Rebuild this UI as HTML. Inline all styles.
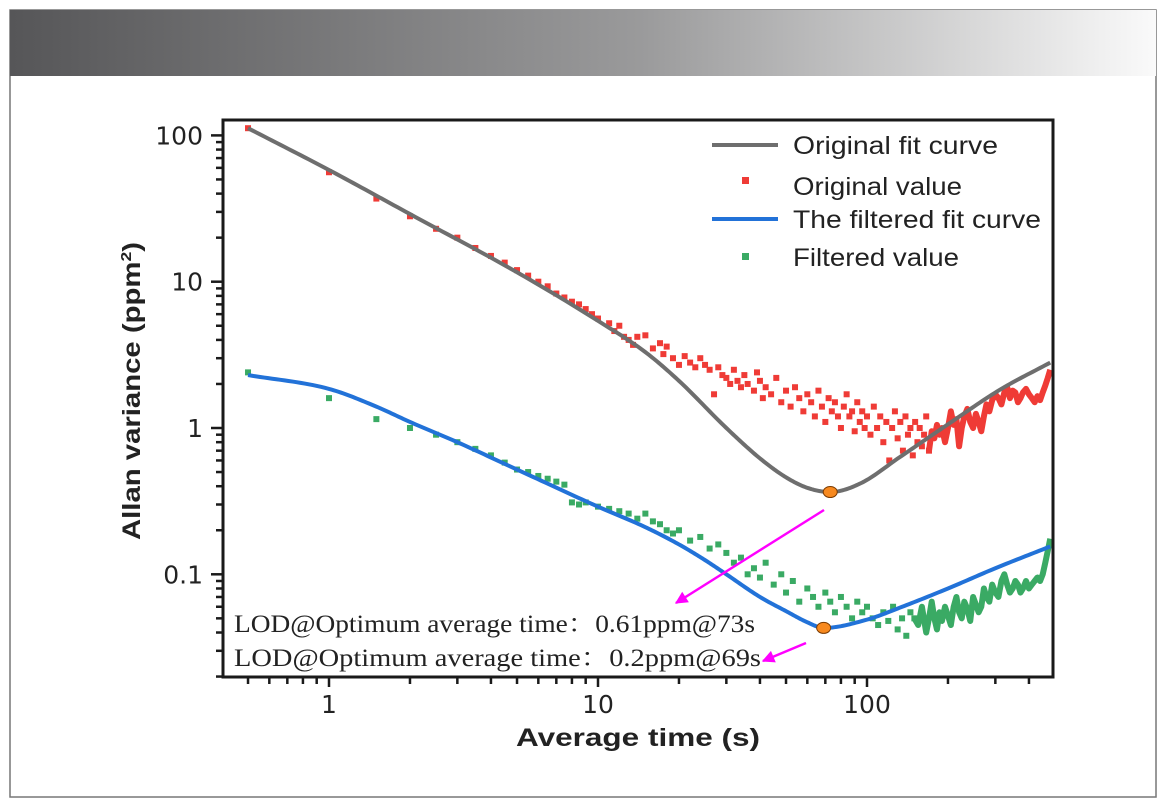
<!DOCTYPE html>
<html><head><meta charset="utf-8"><style>
body{margin:0;background:#fff;}
svg{display:block;font-family:"Liberation Sans",sans-serif;}
</style></head><body>
<svg id="c" width="1166" height="810">
<defs><linearGradient id="hg" x1="0" x2="1"><stop offset="0" stop-color="#565658"/><stop offset="0.55" stop-color="#9a9a9b"/><stop offset="1" stop-color="#fafafa"/></linearGradient>
<marker id="ah" viewBox="0 0 10 10" refX="9" refY="5" markerWidth="7" markerHeight="5" orient="auto"><path d="M0,0L10,5L0,10z" fill="#ff00ff"/></marker></defs>
<rect x="10" y="10" width="1146" height="787" fill="#fff" stroke="#777" stroke-width="1.5"/>
<rect x="10" y="10" width="1146" height="66" fill="url(#hg)"/>
<g id="plot"></g>
</svg>
<script>
const redT=[0.5,1,1.5,2,2.5,3,3.5,4,4.5,5,5.5,6,6.5,7,7.5,8,8.5,9,9.5,10,11,11.5,12,12.5,13,13.5,14,15,16,17,17.5,18,19,20,21,22,23,24,25,26,27,28,29,30,31,32,33,34,35,36,38,39,40,41,42,44,46,48,50,52,54,56,58,60,62,64,66,68,70,72,74,76,78,80,82,84,86,88,90,92,94,96,98,100,103,106,109,112,115,118,121,124,127,130,133,136,139,142,145,148,151,154,157,160,163,166,170];
const redV=[112,56,37,28,23,20,17,15,13.5,12,11,10,9.3,8.3,7.8,7.3,7.0,6.5,6.0,5.6,5.2,4.6,5.0,4.2,4.0,3.7,4.2,4.3,3.5,3.8,3.2,3.6,3.0,2.7,3.1,2.8,2.6,3.0,2.7,2.5,1.7,2.6,2.3,2.2,2.0,2.5,2.1,1.9,2.3,2.0,1.8,2.4,2.1,1.6,1.9,1.7,2.2,1.5,1.8,1.4,1.9,1.6,1.3,1.7,1.5,1.2,1.8,1.4,1.1,1.6,1.3,1.5,1.2,1.0,1.4,1.7,1.2,1.3,0.95,1.5,1.1,1.3,1.0,1.2,0.9,1.4,1.0,1.2,0.8,1.1,0.6,1.0,1.3,0.85,1.1,0.7,1.2,0.9,1.0,0.65,1.1,0.8,1.0,0.75,0.9,1.2,0.7];
const redLineT=[170,174,178,182,186,190,195,200,205,210,215,220,225,230,236,242,248,254,260,266,272,278,285,292,300,308,316,324,332,340,348,356,364,372,380,390,400,410,420,430,440,450,460,470,480];
const redLineV=[0.7,0.95,0.85,1.05,0.9,1.0,0.8,1.0,1.3,1.05,1.15,0.75,1.0,1.2,1.35,1.1,1.0,1.25,1.1,0.95,1.2,1.45,1.3,1.55,1.7,1.6,1.45,1.75,1.9,1.6,1.8,1.75,1.5,1.6,1.75,1.85,1.7,1.6,1.5,1.65,1.55,1.75,1.95,2.2,2.5];
const greenT=[0.5,1,1.5,2,2.5,3,3.5,4,4.5,5,5.5,6,6.5,7,7.5,8,8.5,9,10,11,12,13,14,15,16,17,18,19,20,22,24,26,28,30,32,34,36,38,40,42,45,48,50,53,56,60,63,66,70,73,76,80,84,88,92,96,100,105,110,115,120,125,130,135,140,145,150];
const greenV=[2.4,1.6,1.15,1.0,0.9,0.8,0.72,0.65,0.58,0.52,0.5,0.47,0.45,0.43,0.41,0.31,0.3,0.31,0.29,0.28,0.27,0.26,0.24,0.26,0.23,0.22,0.2,0.19,0.2,0.17,0.18,0.15,0.16,0.14,0.12,0.13,0.1,0.11,0.095,0.12,0.085,0.1,0.075,0.09,0.065,0.08,0.07,0.06,0.075,0.065,0.055,0.07,0.06,0.05,0.065,0.055,0.06,0.05,0.045,0.055,0.048,0.06,0.042,0.05,0.038,0.055,0.05];
const greenLineT=[150,155,160,166,170,174,178,182,186,190,195,200,205,210,215,220,225,230,236,242,248,254,260,266,272,278,285,292,300,308,316,324,332,340,348,356,364,372,380,390,400,410,420,430,440,450,460,470,480];
const greenLineV=[0.05,0.045,0.06,0.04,0.05,0.065,0.05,0.042,0.055,0.048,0.06,0.052,0.045,0.06,0.07,0.055,0.05,0.065,0.058,0.048,0.07,0.062,0.055,0.06,0.08,0.07,0.065,0.085,0.075,0.07,0.09,0.1,0.085,0.075,0.08,0.09,0.085,0.075,0.08,0.09,0.08,0.085,0.09,0.095,0.09,0.1,0.12,0.145,0.175];
const grayFitT=[0.5,1,2,5,10,15,20,30,40,50,60,73,95,132,203,311,480];
const grayFitV=[112,58,29,11.6,5.4,3.3,2.1,1.0,0.62,0.46,0.39,0.365,0.42,0.63,1.08,1.82,2.8];
const blueFitT=[0.5,1,1.5,2,3,5,10,15,20,25,30,40,50,60,69,100,132,200,300,480];
const blueFitV=[2.3,1.85,1.4,1.1,0.8,0.52,0.29,0.21,0.16,0.125,0.1,0.07,0.056,0.047,0.043,0.049,0.059,0.08,0.11,0.155];
const xTicks=[1,10,100];const xTickLabels=["1","10","100"];
const yTicks=[100,10,1,0.1];const yTickLabels=["100","10","1","0.1"];
const optT=[73,69];const optV=[0.365,0.043];

const L=223,R=1053,T=120,B=677;
const xs=t=>329+269*Math.log10(t);
const ys=v=>428-146.3*Math.log10(v);
const NS="http://www.w3.org/2000/svg";
const g=document.getElementById('plot');
function mk(tag,at,parent){const e=document.createElementNS(NS,tag);for(const k in at)e.setAttribute(k,at[k]);(parent||g).appendChild(e);return e;}
// monotone-ish smooth curve: sample piecewise-cubic Hermite in log space
function curve(T_,V_){const X=T_.map(Math.log10),Y=V_.map(Math.log10),n=X.length;
const m=[];for(let i=0;i<n;i++){if(i==0)m.push((Y[1]-Y[0])/(X[1]-X[0]));else if(i==n-1)m.push((Y[n-1]-Y[n-2])/(X[n-1]-X[n-2]));
else{const d0=(Y[i]-Y[i-1])/(X[i]-X[i-1]),d1=(Y[i+1]-Y[i])/(X[i+1]-X[i]);m.push(d0*d1<=0?0:(d0+d1)/2);}}
let d='';for(let i=0;i<n-1;i++){const h=X[i+1]-X[i];for(let k=0;k<=20;k++){if(i>0&&k==0)continue;const s=k/20;
const h00=2*s*s*s-3*s*s+1,h10=s*s*s-2*s*s+s,h01=-2*s*s*s+3*s*s,h11=s*s*s-s*s;
const y=h00*Y[i]+h10*h*m[i]+h01*Y[i+1]+h11*h*m[i+1];const x=X[i]+s*h;
d+=(d?'L':'M')+(329+269*x).toFixed(2)+','+(428-146.3*y).toFixed(2);}}return d;}
function poly(T_,V_){return T_.map((t,i)=>(i?'L':'M')+xs(t)+','+ys(V_[i])).join('');}
const cp=mk('clipPath',{id:'cp'});mk('rect',{x:L,y:T,width:R-L,height:B-T},cp);
const data=mk('g',{'clip-path':'url(#cp)'});


redT.forEach((t,i)=>{const r=mk('rect',{x:xs(t)-3,y:ys(redV[i])-3,width:6,height:6,fill:'#ef3b36'},data);

});
const rl=mk('path',{d:poly(redLineT,redLineV),fill:'none',stroke:'#ef3b36','stroke-width':6,'stroke-linejoin':'round'},data);


greenT.forEach((t,i)=>{const r=mk('rect',{x:xs(t)-3,y:ys(greenV[i])-3,width:6,height:6,fill:'#3aaa64'},data);

});
const gl=mk('path',{d:poly(greenLineT,greenLineV),fill:'none',stroke:'#3aaa64','stroke-width':6,'stroke-linejoin':'round'},data);


const gc=mk('path',{d:curve(grayFitT,grayFitV),fill:'none',stroke:'#6e6e6e','stroke-width':4},data);


const bc=mk('path',{d:curve(blueFitT,blueFitV),fill:'none',stroke:'#2272d8','stroke-width':4},data);


optT.forEach((t,i)=>{const e=mk('ellipse',{cx:xs(t),cy:ys(optV[i]),rx:7,ry:5.5,fill:'#f7891f',stroke:'#7a3a00','stroke-width':1});

});
const a1=mk('line',{x1:824,y1:510,x2:676,y2:603,stroke:'#ff00ff','stroke-width':2.5,'marker-end':'url(#ah)'});


const a2=mk('line',{x1:806,y1:643,x2:763,y2:661,stroke:'#ff00ff','stroke-width':2.5,'marker-end':'url(#ah)'});


const fr=mk('rect',{x:L,y:T,width:R-L,height:B-T,fill:'none',stroke:'#1a1a1a','stroke-width':3});


for(let d=-1;d<=2;d++)for(let m=1;m<=9;m++){const t=m*Math.pow(10,d);const x=xs(t);if(x<L-1||x>R+1)continue;
const tk=mk('line',{x1:x,y1:B,x2:x,y2:B+(m==1?10:7),stroke:'#1a1a1a','stroke-width':2.5});

}
for(let d=-2;d<=2;d++)for(let m=1;m<=9;m++){const v=m*Math.pow(10,d);const y=ys(v);if(y<T-1||y>B+1)continue;
const tk=mk('line',{x1:L,y1:y,x2:L-(m==1?12:7),y2:y,stroke:'#1a1a1a','stroke-width':2.5});

}
xTicks.forEach((t,i)=>{const e=mk('text',{x:xs(t),y:713,'text-anchor':'middle','font-size':25,fill:'#222','font-family':'DejaVu Sans,sans-serif'});e.textContent=xTickLabels[i];

});
yTicks.forEach((v,i)=>{const e=mk('text',{x:203,y:ys(v)+9,'text-anchor':'end','font-size':25,fill:'#222','font-family':'DejaVu Sans,sans-serif'});e.textContent=yTickLabels[i];

});
</script>
<svg style="position:absolute;left:0;top:0" width="1166" height="810">
<text x="516" y="746" textLength="244" lengthAdjust="spacingAndGlyphs" font-size="25" font-weight="bold" fill="#222" font-family="Liberation Sans,sans-serif">Average time (s)</text>
<text transform="translate(140,540) rotate(-90)" textLength="298" lengthAdjust="spacingAndGlyphs" font-size="25" font-weight="bold" fill="#222" font-family="Liberation Sans,sans-serif">Allan variance (ppm<tspan dy="-9" font-size="15">2</tspan><tspan dy="9">)</tspan></text>
<g font-family="Liberation Sans,sans-serif" font-size="25" fill="#222">
<line x1="712" y1="145" x2="778" y2="145" stroke="#6e6e6e" stroke-width="4"/>
<text x="793" y="154" textLength="205" lengthAdjust="spacingAndGlyphs">Original fit curve</text>
<rect x="742" y="177" width="7" height="7" fill="#ef3b36"/>
<text x="793" y="195" textLength="169" lengthAdjust="spacingAndGlyphs">Original value</text>
<line x1="712" y1="219" x2="778" y2="219" stroke="#2272d8" stroke-width="4"/>
<text x="793" y="228" textLength="248" lengthAdjust="spacingAndGlyphs">The filtered fit curve</text>
<rect x="742" y="253" width="7" height="7" fill="#3aaa64"/>
<text x="793" y="266" textLength="166" lengthAdjust="spacingAndGlyphs">Filtered value</text>
</g>
<g font-family="Liberation Serif,'Noto Serif CJK SC',serif" font-size="25" fill="#222">
<text x="234" y="632" textLength="521" lengthAdjust="spacingAndGlyphs">LOD@Optimum average time：0.61ppm@73s</text>
<text x="234" y="666" textLength="527" lengthAdjust="spacingAndGlyphs">LOD@Optimum average time：0.2ppm@69s</text>
</g>
</svg>
</body></html>
